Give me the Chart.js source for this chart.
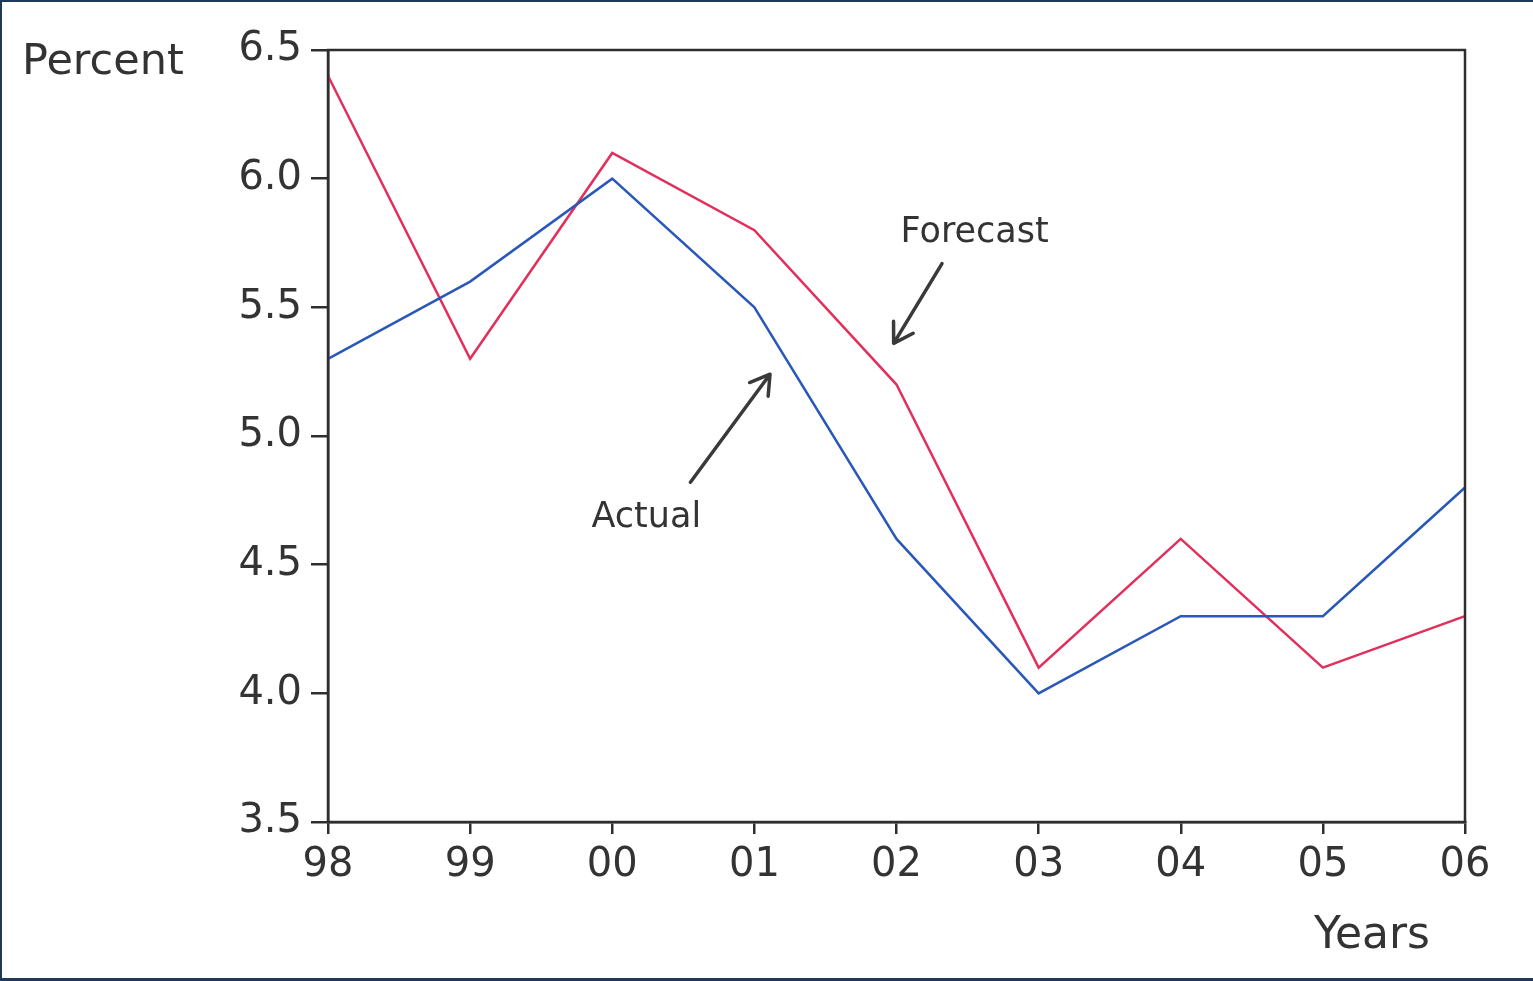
<!DOCTYPE html>
<html>
<head>
<meta charset="utf-8">
<script src="https://cdn.jsdelivr.net/npm/chart.js@4.4.0/dist/chart.umd.min.js"></script>
<style>
  html, body { margin: 0; padding: 0; background: #fff; }
  #wrap { width: 1533px; height: 981px; position: relative; }
</style>
</head>
<body>
<div id="wrap"><canvas id="chart" width="1533" height="981"></canvas></div>
<script>
const years = ['98', '99', '00', '01', '02', '03', '04', '05', '06'];
const actual = [5.3, 5.6, 6.0, 5.5, 4.6, 4.0, 4.3, 4.3, 4.8];
const forecast = [6.4, 5.3, 6.1, 5.8, 5.2, 4.1, 4.6, 4.1, 4.3];

// annotation labels / arrows, in data units (x = index of year)
const notes = [
    {text: 'Forecast', x: 4.55, y: 5.79, from: [4.32, 5.67], to: [3.98, 5.36]},
    {text: 'Actual', x: 2.24, y: 4.68, from: [2.55, 4.82], to: [3.11, 5.24]}
];

const textColor = '#333333';
const fontName = '"DejaVu Sans", "Liberation Sans", sans-serif';

const frameAndNotes = {
    id: 'frameAndNotes',
    afterDraw(chart) {
        const ctx = chart.ctx;
        const area = chart.chartArea;
        const xs = chart.scales.x;
        const ys = chart.scales.y;
        ctx.save();

        // box round the plot
        ctx.strokeStyle = '#2e2e2e';
        ctx.lineWidth = 2.5;
        ctx.strokeRect(area.left, area.top, area.right - area.left, area.bottom - area.top);

        // axis captions
        ctx.fillStyle = textColor;
        ctx.font = '43px ' + fontName;
        ctx.textBaseline = 'alphabetic';
        ctx.textAlign = 'left';
        ctx.fillText('Percent', 22, 74);
        ctx.font = '44px ' + fontName;
        ctx.textAlign = 'center';
        ctx.fillText('Years', 1372, 948);

        // notes with arrows
        ctx.font = '35px ' + fontName;
        ctx.textBaseline = 'middle';
        notes.forEach(n => {
            ctx.fillStyle = textColor;
            ctx.fillText(n.text, xs.getPixelForValue(n.x), ys.getPixelForValue(n.y));
            const x1 = xs.getPixelForValue(n.from[0]), y1 = ys.getPixelForValue(n.from[1]);
            const x2 = xs.getPixelForValue(n.to[0]), y2 = ys.getPixelForValue(n.to[1]);
            ctx.strokeStyle = '#3a3a3a';
            ctx.lineWidth = 3.5;
            ctx.lineCap = 'round';
            ctx.lineJoin = 'round';
            ctx.beginPath();
            ctx.moveTo(x1, y1);
            ctx.lineTo(x2, y2);
            const ang = Math.atan2(y2 - y1, x2 - x1);
            const head = 22;
            ctx.moveTo(x2 - head * Math.cos(ang - 0.55), y2 - head * Math.sin(ang - 0.55));
            ctx.lineTo(x2, y2);
            ctx.lineTo(x2 - head * Math.cos(ang + 0.55), y2 - head * Math.sin(ang + 0.55));
            ctx.stroke();
        });

        // dark scan frame
        ctx.fillStyle = '#1f3a56';
        ctx.fillRect(0, 0, chart.width, 2);
        ctx.fillRect(0, 0, 2, chart.height);
        ctx.fillRect(0, chart.height - 3, chart.width, 3);
        ctx.restore();
    }
};

const config = {
    type: 'line',
    data: {
        labels: years,
        datasets: [
            {label: 'Actual', data: actual, borderColor: '#2a58b8', borderWidth: 2.5, pointRadius: 0, tension: 0, fill: false},
            {label: 'Forecast', data: forecast, borderColor: '#e2305c', borderWidth: 2.5, pointRadius: 0, tension: 0, fill: false}
        ]
    },
    options: {
        responsive: false,
        animation: false,
        events: [],
        layout: {padding: {top: 50, right: 68, left: 0, bottom: 0}},
        plugins: {
            legend: {display: false},
            tooltip: {enabled: false},
            title: {display: false}
        },
        scales: {
            x: {
                offset: false,
                grid: {drawOnChartArea: false, drawTicks: true, tickLength: 12, color: '#2e2e2e', lineWidth: 2.5},
                border: {display: true, color: '#2e2e2e', width: 2.5},
                ticks: {color: textColor, font: {family: fontName, size: 40}, padding: 8, maxRotation: 0, autoSkip: false},
                afterFit(scale) { scale.height = 159; }
            },
            y: {
                min: 3.5,
                max: 6.5,
                grid: {drawOnChartArea: false, drawTicks: true, tickLength: 17, color: '#2e2e2e', lineWidth: 2.5},
                border: {display: true, color: '#2e2e2e', width: 2.5},
                ticks: {
                    stepSize: 0.5,
                    color: textColor,
                    font: {family: fontName, size: 40},
                    padding: 9,
                    callback: v => Number(v).toFixed(1)
                },
                afterFit(scale) { scale.width = 328; }
            }
        }
    },
    plugins: [frameAndNotes]
};

const ctx = document.getElementById('chart').getContext('2d');
const plot = new Chart(ctx, config);
</script>
</body>
</html>
